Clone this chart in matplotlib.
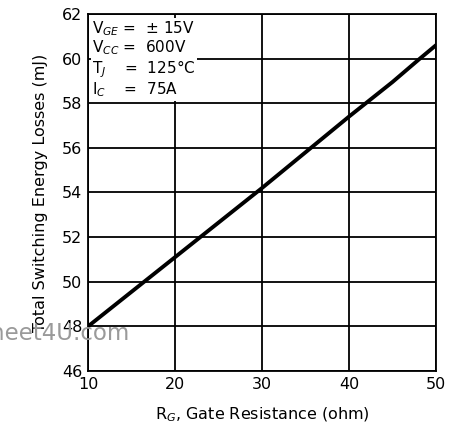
import matplotlib.pyplot as plt

# gate resistance (ohm) vs total switching energy (mJ)
rg = [10, 15, 20, 25, 30, 35, 40, 45, 48, 50]
energy = [48.0, 49.55, 51.1, 52.65, 54.2, 55.8, 57.4, 58.95, 59.95, 60.6]

xticks = [10, 20, 30, 40, 50]
yticks = [46, 48, 50, 52, 54, 56, 58, 60, 62]

fig = plt.figure(figsize=(4.49, 4.36), dpi=100)
ax = fig.add_axes([0.196, 0.149, 0.775, 0.819])

ax.plot(rg, energy, color="black", lw=2.8, solid_capstyle="round", zorder=3)

ax.set_xlim(10, 50)
ax.set_ylim(46, 62)
ax.set_xticks(xticks)
ax.set_yticks(yticks)
ax.tick_params(length=0, labelsize=11.5, pad=4)
ax.grid(True, color="black", lw=1.3)
for s in ax.spines.values():
    s.set_linewidth(1.3)

ax.set_xlabel("R$_G$, Gate Resistance (ohm)", fontsize=11.5, labelpad=10)
ax.set_ylabel("Total Switching Energy Losses (mJ)", fontsize=11.5, labelpad=10)

cond = ("V$_{GE}$ =  \u00b1 15V\n"
        "V$_{CC}$ =  600V\n"
        "T$_J$    =  125\u00b0C\n"
        "I$_C$    =  75A")
ax.text(0.012, 0.985, cond, transform=ax.transAxes, ha="left", va="top",
        fontsize=11, linespacing=1.05, zorder=4,
        bbox=dict(boxstyle="square,pad=0.1", fc="white", ec="none"))

# site watermark, partly off the left edge
fig.text(-0.175, 0.236, "DataSheet4U.com", color="#9a9a9a", fontsize=16.5,
         ha="left", va="center", zorder=5)

fig.savefig("out.png", dpi=100)
